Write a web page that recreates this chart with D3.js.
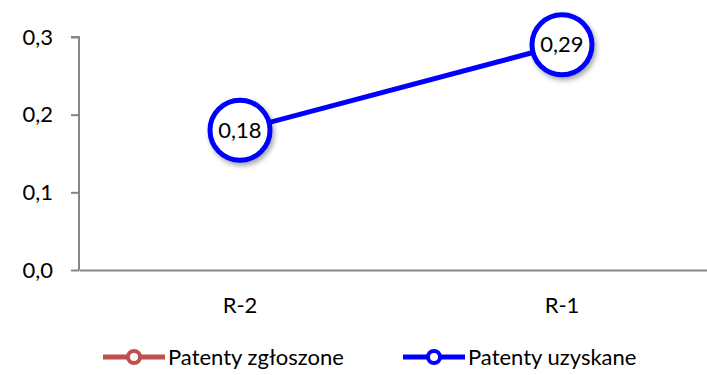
<!DOCTYPE html>
<html>
<head>
<meta charset="utf-8">
<script src="https://cdn.jsdelivr.net/npm/d3@7"></script>
<style>
  body { margin: 0; background: #fff; }
  text { font-family: Lato, "Open Sans", sans-serif; fill: #000; }
</style>
</head>
<body>
<svg id="chart" width="707" height="375"></svg>
<script>
const categories = ["R-2", "R-1"];
const seriesNames = ["Patenty zgłoszone", "Patenty uzyskane"];
const seriesColors = ["#c0504d", "#0000ff"];
const uzyskane = [0.18, 0.29];
const yTicks = [0, 0.1, 0.2, 0.3];

const svg = d3.select("#chart");
const fmt = v => d3.format(".1f")(v).replace(".", ",");
const fmt2 = v => d3.format(".2f")(v).replace(".", ",");

const x = d3.scaleBand().domain(categories).range([79, 723]);
const y = d3.scaleLinear().domain([0, 0.3]).range([270, 37]);

// shadow for the markers
const defs = svg.append("defs");
const f = defs.append("filter").attr("id", "shadow")
    .attr("x", "-30%").attr("y", "-30%").attr("width", "160%").attr("height", "160%");
f.append("feDropShadow").attr("dx", 2).attr("dy", 3).attr("stdDeviation", 2.5)
    .attr("flood-color", "#000").attr("flood-opacity", 0.35);

// cut off title (only a sliver shows)
svg.append("text")
    .attr("x", 372).attr("y", -3)
    .attr("text-anchor", "middle")
    .style("font-size", "18px").style("font-weight", "bold").style("fill", "#c0504d")
    .text("y");

// axes
const yAxis = svg.append("g")
    .attr("transform", "translate(79,0)")
    .call(d3.axisLeft(y).tickValues(yTicks).tickFormat(fmt).tickSize(8).tickPadding(18));
yAxis.select(".domain").attr("stroke", "#868686").attr("stroke-width", 2)
    .attr("d", "M-8," + y(0.3) + "H0V" + y(0));
yAxis.selectAll(".tick line").attr("stroke", "#868686").attr("stroke-width", 2);
yAxis.selectAll(".tick text").style("font-size", "22px").attr("fill", "#000");

const xAxis = svg.append("g")
    .attr("transform", "translate(0," + y(0) + ")")
    .call(d3.axisBottom(x).tickSize(0).tickPadding(27));
xAxis.select(".domain").attr("stroke", "#868686").attr("stroke-width", 2);
xAxis.selectAll(".tick text").style("font-size", "22px").attr("fill", "#000");

// line series
const pts = categories.map((c, i) => ({ c: c, v: uzyskane[i] }));
const line = d3.line().x(d => x(d.c) + x.bandwidth() / 2).y(d => y(d.v));

svg.append("path")
    .datum(pts)
    .attr("fill", "none")
    .attr("stroke", seriesColors[1])
    .attr("stroke-width", 5)
    .attr("d", line);

const mk = svg.selectAll(".mk")
    .data(pts)
    .enter().append("g")
    .attr("class", "mk")
    .attr("transform", d => "translate(" + (x(d.c) + x.bandwidth() / 2) + "," + y(d.v) + ")");

mk.append("circle")
    .attr("r", 30)
    .attr("fill", "#fff")
    .attr("stroke", seriesColors[1])
    .attr("stroke-width", 5)
    .attr("filter", "url(#shadow)");

mk.append("text")
    .attr("text-anchor", "middle")
    .attr("dy", "0.35em")
    .style("font-size", "22px")
    .text(d => fmt2(d.v));

// legend
const legX = [103, 403];
const leg = svg.selectAll(".leg")
    .data(seriesNames)
    .enter().append("g")
    .attr("class", "leg")
    .attr("transform", (d, i) => "translate(" + legX[i] + ",357)");

leg.append("line")
    .attr("x1", 0).attr("x2", 62)
    .attr("stroke", (d, i) => seriesColors[i])
    .attr("stroke-width", 5);
leg.append("circle")
    .attr("cx", 31).attr("r", 6)
    .attr("fill", "#fff")
    .attr("stroke", (d, i) => seriesColors[i])
    .attr("stroke-width", 4);
leg.append("text")
    .attr("x", 65).attr("dy", "0.35em")
    .style("font-size", "22px")
    .text(d => d);
</script>
</body>
</html>
